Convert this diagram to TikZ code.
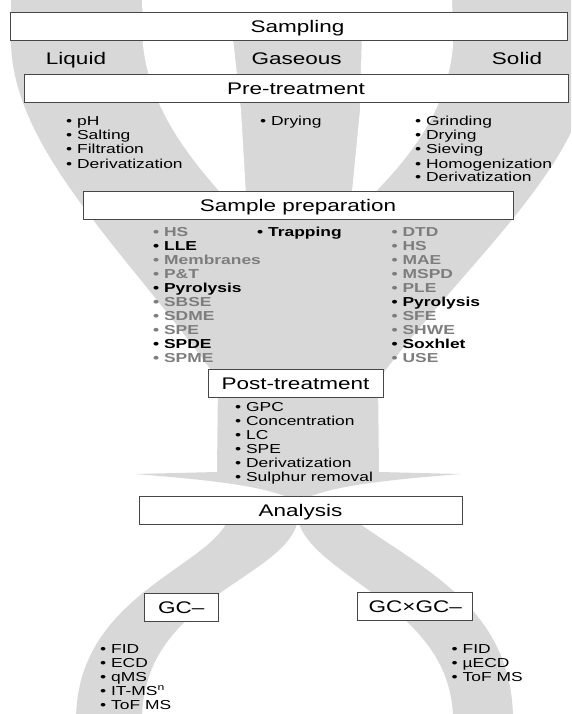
\documentclass[tikz,border=0pt]{standalone}
\usepackage{fontspec}
\setmainfont{Liberation Sans}[FakeStretch=1.34]
\definecolor{band}{RGB}{216,216,216}
\definecolor{boxline}{RGB}{70,70,70}
\definecolor{dimtext}{RGB}{125,125,125}
\begin{document}
\begin{tikzpicture}[x=1pt,y=-1pt,
  box/.style={draw=boxline, fill=white, line width=0.9pt, inner sep=0pt, text height=12pt, text depth=0pt, font=\fontsize{16.8}{18}\selectfont, minimum height=27.5pt},
  head/.style={inner sep=0pt, text height=12pt, text depth=0pt, font=\fontsize{16.8}{18}\selectfont},
  item/.style={anchor=base west, inner sep=0pt, font=\fontsize{13}{14}\selectfont},
  bitem/.style={anchor=base west, inner sep=0pt, font=\fontsize{13}{14}\selectfont\bfseries},
]
\useasboundingbox (0,0) rectangle (571,714);
\begin{scope}
\clip (0,0) rectangle (571,714);
% upper bands and funnel with arrow
\fill[band] (11,-5) -- (11,40) .. controls (11,150) and (130,255) .. (218,380) -- (217,472) -- (135,474)
  .. controls (210,480) and (270,486) .. (298,502)
  .. controls (326,486) and (386,480) .. (461,474) -- (379,472) -- (378,380)
  .. controls (468,260) and (590,160) .. (590,60) -- (590,-5) -- cycle;
% white gaps between the three upper bands
\fill[white] (142,-5) -- (143,45) .. controls (150,110) and (190,160) .. (238,212) -- (247,212) -- (241,110) -- (232,30)
  -- (362,30) -- (360,110) -- (350,212) -- (355,212) .. controls (410,160) and (448,110) .. (453,45) -- (452,-5) -- cycle;
% lower bands
\fill[band] (298,512) -- (297,524) .. controls (280,580) and (142,600) .. (142,720) -- (76,720)
  .. controls (76,600) and (200,570) .. (226,524) -- (232,512) -- cycle;
\fill[band] (298,512) -- (299,524) .. controls (320,580) and (453,610) .. (453,720) -- (513,720)
  .. controls (513,610) and (425,570) .. (360,524) -- (352,512) -- cycle;
\end{scope}

% boxes
\node[box, minimum width=557pt] (sampling) at (288.5,26.7) {};
\node[head] (samplingtxt) at (297.6,26.7) {Sampling};
\node[head] (liquid) at (76,58.7) {Liquid};
\node[head] (gaseous) at (296.7,58.7) {Gaseous};
\node[head] (solid) at (517,58.7) {Solid};
\node[box, minimum width=544pt] (pre) at (296,88.5) {Pre-treatment};
\node[box, minimum width=430pt] (prep) at (298,205.5) {Sample preparation};
\node[box, minimum width=175pt] (post) at (295.5,383.5) {Post-treatment};
\node[box, minimum width=323pt] (analysis) at (300.5,510.5) {Analysis};
\node[box, minimum width=74.5pt, minimum height=28pt] (gc) at (181.2,607) {GC–};
\node[box, minimum width=115pt, minimum height=28.5pt] (gcgc) at (415.2,606.5) {GC×GC–};

% pre-treatment lists
\foreach \t [count=\i from 0] in {pH,Salting,Filtration,Derivatization}
  \node[item] (pl\i) at (66,{126+14*\i}) {• \t};
\node[item] (pm0) at (260,126) {• Drying};
\foreach \t [count=\i from 0] in {Grinding,Drying,Sieving,Homogenization,Derivatization}
  \node[item] (pr\i) at (415,{126+14*\i}) {• \t};

% sample preparation lists
\foreach \c/\t [count=\i from 0] in {dimtext/HS,black/LLE,dimtext/Membranes,dimtext/P\&T,black/Pyrolysis,dimtext/SBSE,dimtext/SDME,dimtext/SPE,black/SPDE,dimtext/SPME}
  \node[bitem, text=\c] (sl\i) at (153,{236+14*\i}) {• \t};
\node[bitem] (sm0) at (257,236) {• Trapping};
\foreach \c/\t [count=\i from 0] in {dimtext/DTD,dimtext/HS,dimtext/MAE,dimtext/MSPD,dimtext/PLE,black/Pyrolysis,dimtext/SFE,dimtext/SHWE,black/Soxhlet,dimtext/USE}
  \node[bitem, text=\c] (sr\i) at (391.5,{236+14*\i}) {• \t};

% post-treatment list
\foreach \t [count=\i from 0] in {GPC,Concentration,LC,SPE,Derivatization,Sulphur removal}
  \node[item] (po\i) at (235,{411+14*\i}) {• \t};

% detector lists
\foreach \t [count=\i from 0] in {FID,ECD,qMS,{IT-MS\textsuperscript{n}},ToF MS}
  \node[item] (dl\i) at (100,{653+14*\i}) {• \t};
\foreach \t [count=\i from 0] in {FID,µECD,ToF MS}
  \node[item] (dr\i) at (451.5,{653+14*\i}) {• \t};
\end{tikzpicture}
\end{document}
